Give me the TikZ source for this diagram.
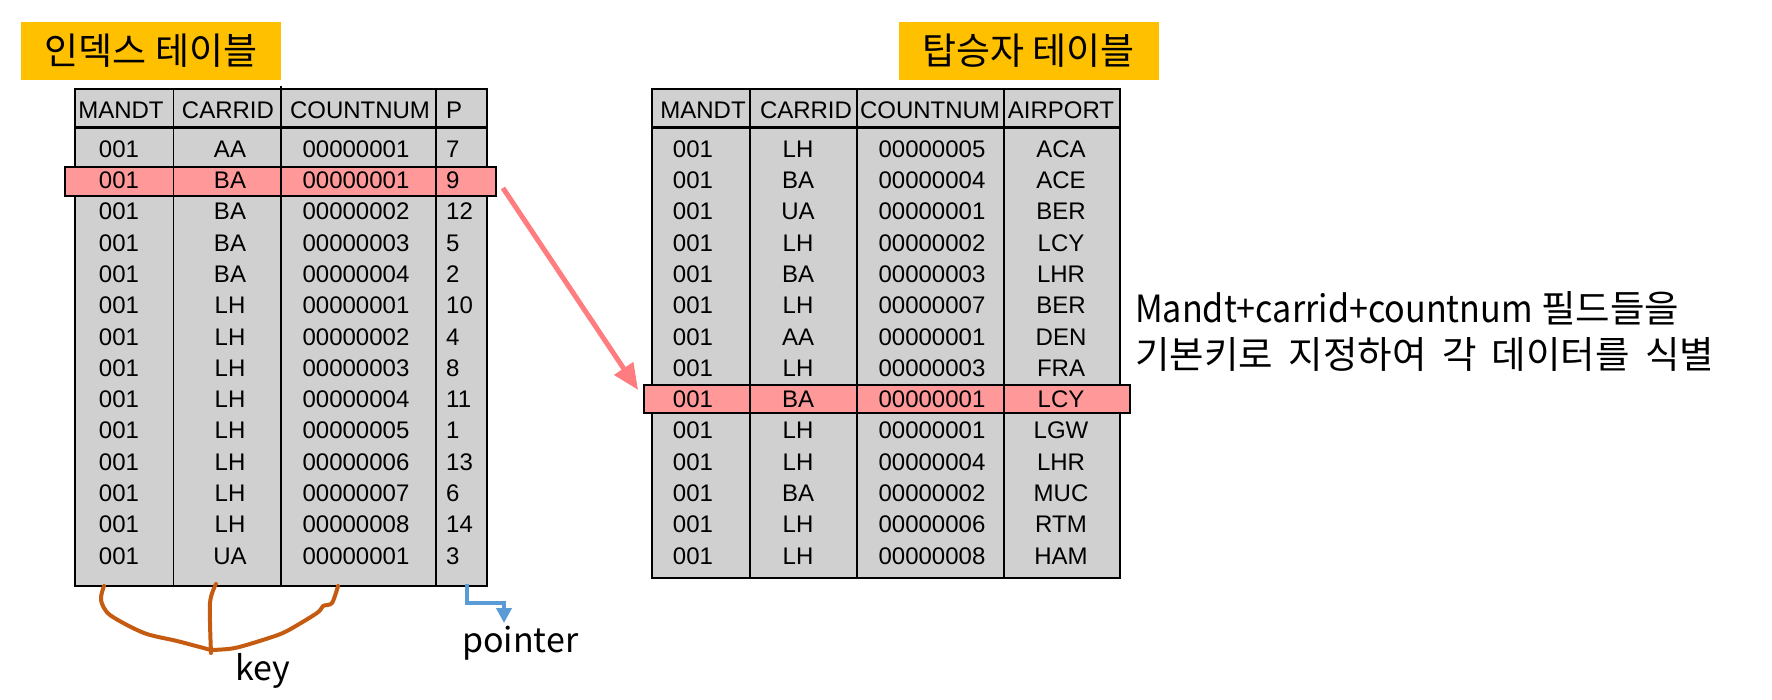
\documentclass[tikz,border=0pt]{standalone}
\usepackage{fontspec}
\setmainfont{Noto Sans CJK KR}
\newfontfamily\tablafont{Liberation Sans}
\newfontfamily\notalatin[FakeStretch=0.91]{Noto Sans CJK KR}
\usetikzlibrary{arrows.meta}

\definecolor{amarillo}{HTML}{FFC000}
\definecolor{gris}{HTML}{D0D0D0}
\definecolor{rosa}{HTML}{FF9999}
\definecolor{coral}{HTML}{FF7C80}
\definecolor{naranja}{HTML}{C55A11}
\definecolor{azul}{HTML}{5B9BD5}

\tikzset{
  titulo/.style={fill=amarillo, inner sep=0pt, minimum width=260pt, minimum height=58pt,
    font=\fontsize{37}{44}\selectfont},
  celda/.style={font=\tablafont\fontsize{24}{28}\selectfont, inner sep=0pt},
  fila/.style={draw=black, line width=1.8pt, fill=rosa, inner sep=0pt},
  borde/.style={line width=1.8pt},
  nota/.style={font=\fontsize{37.5}{46}\selectfont, inner sep=0pt, anchor=base west},
  etiqueta/.style={font=\fontsize{34}{40}\selectfont, inner sep=0pt, anchor=base west},
}

\begin{document}
\begin{tikzpicture}[x=1pt, y=-1pt]
  \useasboundingbox (0,0) rectangle (1772,700);

  % Titulos
  \node[titulo] (tIdx) at (151,51) {인덱스 테이블};
  \node[titulo] (tPax) at (1028.5,51) {탑승자 테이블};

  % Tabla de indices
  \draw[borde, fill=gris] (75,89) rectangle (487,586);
  \draw[line width=3pt] (75,128) -- (487,128);
  \node[fila, minimum width=431pt, minimum height=29pt] (hlIdx) at (280.5,181.5) {};
  \foreach \x in {173.5,436}
    \draw[borde] (\x,89) -- (\x,586);
  \draw[borde] (281,86) -- (281,586);

  % Tabla de pasajeros
  \draw[borde, fill=gris] (652,89) rectangle (1120,578);
  \draw[line width=3pt] (652,128) -- (1120,128);
  \node[fila, minimum width=486pt, minimum height=28pt] (hlPax) at (887,399) {};
  \foreach \x in {750,857,1004}
    \draw[borde] (\x,89) -- (\x,578);

  % Cabeceras
  \node[celda] (iHM) at (121,110) {MANDT};
  \node[celda] (iHC) at (228,110) {CARRID};
  \node[celda] (iHN) at (360,110) {COUNTNUM};
  \node[celda, anchor=west] (iHP) at (446,110) {P};
  \node[celda] (pHM) at (703,110) {MANDT};
  \node[celda] (pHC) at (806,110) {CARRID};
  \node[celda] (pHN) at (930,110) {COUNTNUM};
  \node[celda] (pHA) at (1061,110) {AIRPORT};

  % Filas de la tabla de indices
  \foreach \m/\c/\n/\p [count=\i] in {001/AA/00000001/7, 001/BA/00000001/9,
      001/BA/00000002/12, 001/BA/00000003/5, 001/BA/00000004/2,
      001/LH/00000001/10, 001/LH/00000002/4, 001/LH/00000003/8,
      001/LH/00000004/11, 001/LH/00000005/1, 001/LH/00000006/13,
      001/LH/00000007/6, 001/LH/00000008/14, 001/UA/00000001/3} {
    \pgfmathsetmacro{\fy}{149+(\i-1)*31.3}
    \node[celda] (iM\i) at (119,\fy) {\m};
    \node[celda] (iC\i) at (230,\fy) {\c};
    \node[celda] (iN\i) at (356,\fy) {\n};
    \node[celda, anchor=west] (iP\i) at (446,\fy) {\p};
  }

  % Filas de la tabla de pasajeros
  \foreach \m/\c/\n/\a [count=\i] in {001/LH/00000005/ACA, 001/BA/00000004/ACE,
      001/UA/00000001/BER, 001/LH/00000002/LCY, 001/BA/00000003/LHR,
      001/LH/00000007/BER, 001/AA/00000001/DEN, 001/LH/00000003/FRA,
      001/BA/00000001/LCY, 001/LH/00000001/LGW, 001/LH/00000004/LHR,
      001/BA/00000002/MUC, 001/LH/00000006/RTM, 001/LH/00000008/HAM} {
    \pgfmathsetmacro{\fy}{149+(\i-1)*31.3}
    \node[celda] (pM\i) at (693,\fy) {\m};
    \node[celda] (pC\i) at (798,\fy) {\c};
    \node[celda] (pN\i) at (932,\fy) {\n};
    \node[celda] (pA\i) at (1061,\fy) {\a};
  }

  % Flecha entre filas
  \draw[coral, line width=5pt, -{Triangle[length=26pt,width=22pt]}]
    ([xshift=6pt,yshift=-6.5pt]hlIdx.east) -- ([xshift=-5pt,yshift=9pt]hlPax.west);

  % Llave
  \draw[naranja, line width=4pt, line cap=round, line join=round]
    plot[smooth, tension=0.5] coordinates {(104,586) (101,600) (110,615) (144,633) (177,641) (211,650)};
  \draw[naranja, line width=4pt, line cap=round, line join=round]
    plot[smooth, tension=0.5] coordinates {(216,584) (210,603) (211,653)};
  \draw[naranja, line width=4pt, line cap=round, line join=round]
    plot[smooth, tension=0.5] coordinates {(338,586) (332,603) (323,606) (317,613) (287,631) (269,638) (235,648) (211,650)};
  \node[etiqueta] (lKey) at (235,680) {key};

  % Puntero
  \coordinate (pBase) at (467,584);
  \coordinate (pCodo) at (504,603);
  \coordinate (pFin) at (504,623);
  \draw[azul, line width=4.5pt, -{Triangle[length=15pt,width=15pt]}] (pBase) |- (pCodo) -- (pFin);
  \node[etiqueta] (lPtr) at (462,652) {pointer};

  % Nota
  \node[nota] (notaA) at (1135,323) {{\notalatin Mandt+carrid+countnum} 필드들을};
  \node[nota] (notaB) at (1135,369) {기본키로\hspace{7pt} 지정하여\hspace{7pt} 각\hspace{7pt} 데이터를\hspace{7pt} 식별};
\end{tikzpicture}
\end{document}
